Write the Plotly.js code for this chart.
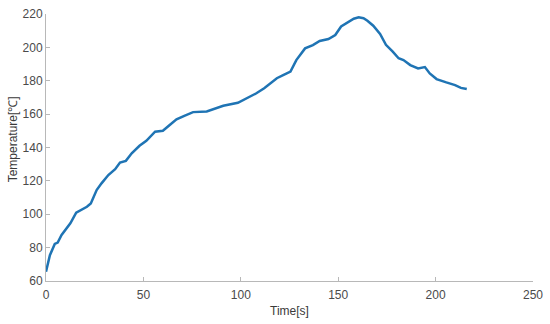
<!DOCTYPE html>
<html>
<head>
<meta charset="utf-8">
<script src="https://cdn.plot.ly/plotly-3.0.1.min.js"></script>
<style>
  html, body { margin: 0; padding: 0; background: #fff; }
  #plot { width: 550px; height: 324px; }
</style>
</head>
<body>
<div id="plot"></div>
<script>
// time [s]
const timeS = [0, 2, 4.5, 6, 8, 10, 12.5, 15.5, 18, 21, 23, 26, 28.5, 32, 35.5, 38, 41, 44, 48, 51.5,
    56, 60, 63.5, 67, 71, 75.5, 82.5, 87, 91, 98.5, 103, 108, 112, 115, 118.5, 122, 125.5, 128.5,
    133, 137, 140.5, 145, 148.5, 151.5, 155, 158, 160.5, 163, 165, 168, 171.5, 174.5, 178, 181,
    183.5, 187, 191, 194.5, 197, 200.5, 205.5, 210, 213, 216];

// temperature [C]
const tempC = [65.6, 75.5, 82.2, 83, 87.6, 90.6, 94.6, 101, 102.8, 104.5, 106.5, 114.5, 118.5, 123.5,
    127, 131, 132, 136.5, 141, 144, 149.5, 150, 153.5, 156.9, 159, 161.2, 161.6, 163.5, 165, 166.8,
    169.5, 172.5, 175.5, 178.5, 181.5, 183.5, 185.5, 192.4, 199.4, 201.4, 203.8, 205, 207.4, 212.5,
    214.8, 217.2, 218, 217.5, 216, 213, 208, 201.5, 197.4, 193.5, 192.4, 189.4, 187.4, 188.2, 184.4,
    181, 179, 177.4, 175.7, 175];

const xTicks = [0, 50, 100, 150, 200, 250];
const yTicks = [60, 80, 100, 120, 140, 160, 180, 200, 220];

const fontFam = 'Liberation Sans, Arial, sans-serif';

const trace = {
    x: timeS,
    y: tempC,
    mode: 'lines',
    line: {color: '#1f74b4', width: 2.5},
    showlegend: false
};

const axisCommon = {
    showgrid: false,
    zeroline: false,
    showline: true,
    linecolor: '#b8b8b8',
    linewidth: 1,
    ticks: 'inside',
    ticklen: 4,
    tickcolor: '#b8b8b8',
    tickfont: {family: fontFam, size: 12, color: '#4a4a4a'},
    mirror: false
};

const layout = {
    width: 550,
    height: 324,
    margin: {l: 46, r: 17, t: 14, b: 43},
    paper_bgcolor: '#ffffff',
    plot_bgcolor: '#ffffff',
    xaxis: Object.assign({}, axisCommon, {
        range: [0, 250],
        tickvals: xTicks,
        ticklabelstandoff: 3,
        title: {text: 'Time[s]', standoff: 5, font: {family: fontFam, size: 12, color: '#3a3a3a'}}
    }),
    yaxis: Object.assign({}, axisCommon, {
        range: [60, 220],
        tickvals: yTicks
    }),
    // y title as annotation so it can sit a little above the centre, like the original
    annotations: [{
        text: 'Temperature[℃]',
        xref: 'paper', yref: 'paper',
        x: -0.066, y: 0.53,
        xanchor: 'center', yanchor: 'middle',
        textangle: -90,
        showarrow: false,
        font: {family: fontFam, size: 12, color: '#3a3a3a'}
    }]
};

Plotly.newPlot('plot', [trace], layout, {displayModeBar: false, staticPlot: true});
</script>
</body>
</html>
